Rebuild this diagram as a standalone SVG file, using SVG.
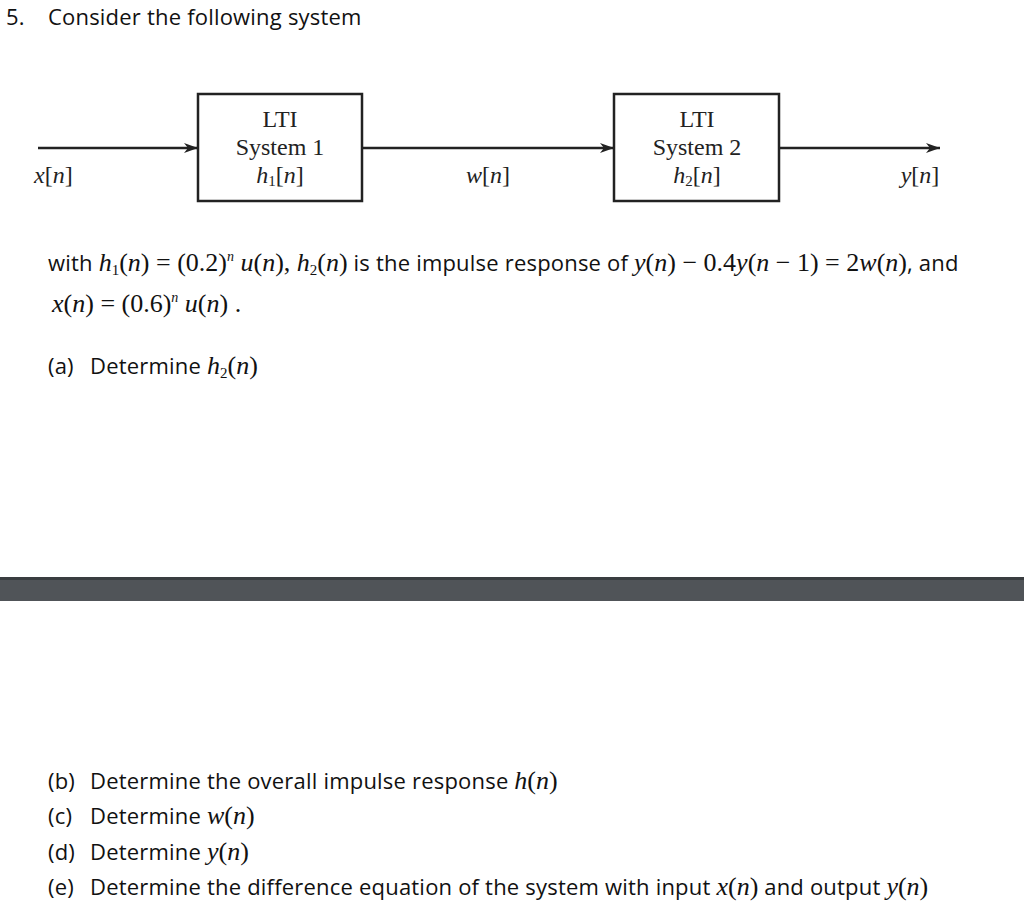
<svg xmlns="http://www.w3.org/2000/svg" width="1024" height="903" viewBox="0 0 1024 903">
<style>
.t{font-family:"Open Sans","Liberation Sans",sans-serif;font-size:22px;letter-spacing:0.2px;fill:#111}
.m{font-family:"Liberation Serif",serif;font-size:26px;fill:#111}
.mi{font-family:"Liberation Serif",serif;font-size:26px;font-style:italic;fill:#111}
.b{font-family:"Liberation Serif",serif;font-size:24px;fill:#222}
.s{font-size:15px}
.sup{font-size:14px}
.box{fill:#fff;stroke:#222;stroke-width:2.5}
.ln{stroke:#222;stroke-width:2.5;fill:none;marker-end:url(#ah)}
</style>
<defs><marker id="ah" markerWidth="14" markerHeight="10" refX="14" refY="5" orient="auto" markerUnits="userSpaceOnUse"><path d="M0,0 L14,5 L0,10 L4,5 Z" fill="#222"/></marker></defs>
<rect width="1024" height="903" fill="#fff"/>
<text class="t" x="6" y="25">5.</text>
<text class="t" x="48" y="25">Consider the following system</text>
<g id="connectors">
<path class="ln" d="M38,148 H198"/>
<path class="ln" d="M362,148 H614"/>
<path class="ln" d="M779,148 H940"/>
</g>
<g id="sys1"><rect class="box" x="198" y="94" width="164" height="107"/>
<text class="b" x="280" y="127" text-anchor="middle">LTI</text>
<text class="b" x="280" y="155" text-anchor="middle">System 1</text>
<text class="b" x="280" y="183" text-anchor="middle"><tspan font-style="italic">h</tspan><tspan style="font-size:15px" dy="3">1</tspan><tspan dy="-3">[</tspan><tspan font-style="italic">n</tspan>]</text></g>
<g id="sys2"><rect class="box" x="614" y="94" width="165" height="107"/>
<text class="b" x="697" y="127" text-anchor="middle">LTI</text>
<text class="b" x="697" y="155" text-anchor="middle">System 2</text>
<text class="b" x="697" y="183" text-anchor="middle"><tspan font-style="italic">h</tspan><tspan style="font-size:15px" dy="3">2</tspan><tspan dy="-3">[</tspan><tspan font-style="italic">n</tspan>]</text></g>
<text class="b" x="34" y="183"><tspan font-style="italic">x</tspan>[<tspan font-style="italic">n</tspan>]</text>
<text class="b" x="488" y="183" text-anchor="middle"><tspan font-style="italic">w</tspan>[<tspan font-style="italic">n</tspan>]</text>
<text class="b" x="920" y="183" text-anchor="middle"><tspan font-style="italic">y</tspan>[<tspan font-style="italic">n</tspan>]</text>
<text x="48" y="271"><tspan class="t">with </tspan><tspan class="mi">h</tspan><tspan class="m s" dy="4">1</tspan><tspan class="m" dy="-4">(</tspan><tspan class="mi">n</tspan><tspan class="m">) = (0.2)</tspan><tspan class="mi sup" dy="-10">n</tspan><tspan class="mi" dy="10"> u</tspan><tspan class="m">(</tspan><tspan class="mi">n</tspan><tspan class="m">), </tspan><tspan class="mi">h</tspan><tspan class="m s" dy="4">2</tspan><tspan class="m" dy="-4">(</tspan><tspan class="mi">n</tspan><tspan class="m">)</tspan><tspan class="t"> is the impulse response of </tspan><tspan class="mi">y</tspan><tspan class="m">(</tspan><tspan class="mi">n</tspan><tspan class="m">) − 0.4</tspan><tspan class="mi">y</tspan><tspan class="m">(</tspan><tspan class="mi">n</tspan><tspan class="m"> − 1) = 2</tspan><tspan class="mi">w</tspan><tspan class="m">(</tspan><tspan class="mi">n</tspan><tspan class="m">)</tspan><tspan class="t">, and</tspan></text>
<text x="52" y="312"><tspan class="mi">x</tspan><tspan class="m">(</tspan><tspan class="mi">n</tspan><tspan class="m">) = (0.6)</tspan><tspan class="mi sup" dy="-10">n</tspan><tspan class="mi" dy="10"> u</tspan><tspan class="m">(</tspan><tspan class="mi">n</tspan><tspan class="m">) .</tspan></text>
<text class="t" x="48" y="374">(a)</text>
<text x="90" y="374"><tspan class="t">Determine </tspan><tspan class="mi">h</tspan><tspan class="m s" dy="4">2</tspan><tspan class="m" dy="-4">(</tspan><tspan class="mi">n</tspan><tspan class="m">)</tspan></text>
<rect x="0" y="577" width="1024" height="24" fill="#505458"/>
<rect x="0" y="577" width="1024" height="3" fill="#3a3d40"/>
<text class="t" x="48" y="789">(b)</text>
<text x="90" y="789"><tspan class="t">Determine the overall impulse response </tspan><tspan class="mi">h</tspan><tspan class="m">(</tspan><tspan class="mi">n</tspan><tspan class="m">)</tspan></text>
<text class="t" x="48" y="824">(c)</text>
<text x="90" y="824"><tspan class="t">Determine </tspan><tspan class="mi">w</tspan><tspan class="m">(</tspan><tspan class="mi">n</tspan><tspan class="m">)</tspan></text>
<text class="t" x="48" y="860">(d)</text>
<text x="90" y="860"><tspan class="t">Determine </tspan><tspan class="mi">y</tspan><tspan class="m">(</tspan><tspan class="mi">n</tspan><tspan class="m">)</tspan></text>
<text class="t" x="48" y="895">(e)</text>
<text x="90" y="895"><tspan class="t">Determine the difference equation of the system with input </tspan><tspan class="mi">x</tspan><tspan class="m">(</tspan><tspan class="mi">n</tspan><tspan class="m">)</tspan><tspan class="t"> and output </tspan><tspan class="mi">y</tspan><tspan class="m">(</tspan><tspan class="mi">n</tspan><tspan class="m">)</tspan></text>
</svg>
